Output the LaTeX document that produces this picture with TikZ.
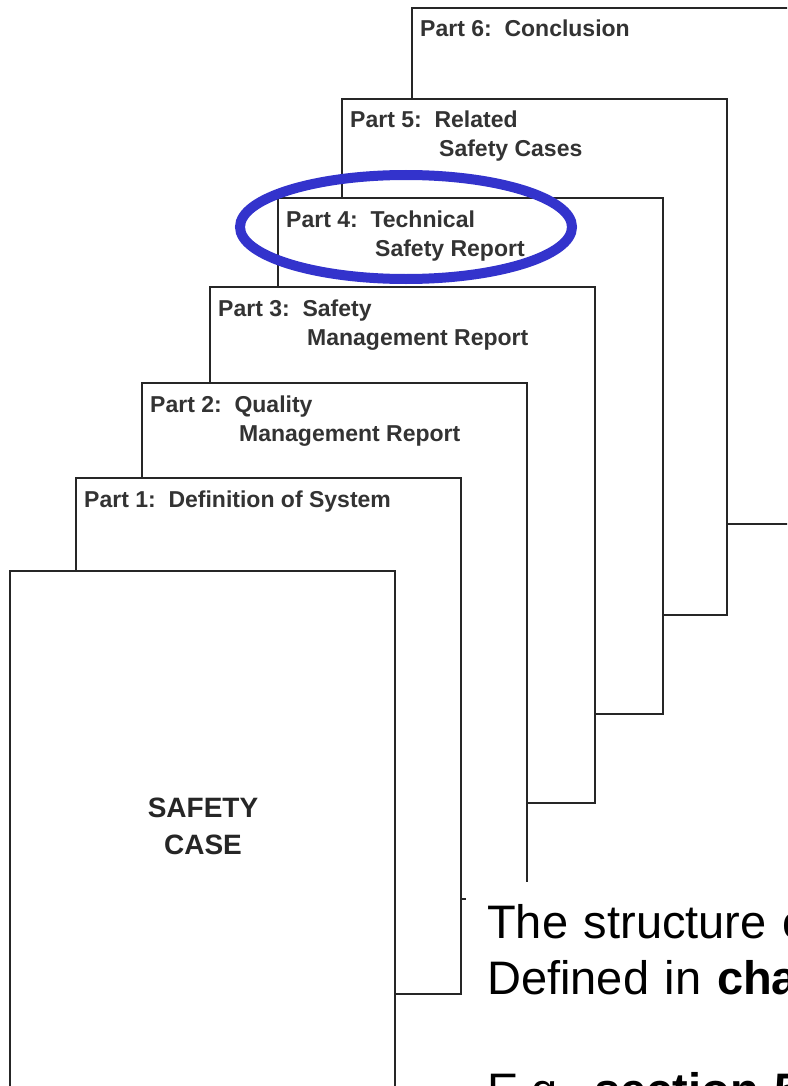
\documentclass[tikz,border=0pt]{standalone}
\usepackage{fontspec}
\setmainfont{Liberation Sans}
\usepackage{tikz}

\definecolor{ovalblue}{RGB}{51,51,204}

\begin{document}
\begin{tikzpicture}[
  x=1pt, y=-1pt,
  page/.style={draw=black!85, line width=2pt, fill=white, inner sep=0pt,
               outer sep=0pt, minimum width=385pt, minimum height=516pt,
               anchor=north west},
  plabel/.style={anchor=base west, inner sep=0pt, text=black!80,
                 font=\bfseries\fontsize{23}{29}\selectfont},
  hilite/.style={draw=ovalblue, line width=10pt},
  note/.style={anchor=north west, fill=white, align=left, text width=420pt,
               inner xsep=21pt, inner ysep=22pt,
               font=\fontsize{47}{56}\selectfont}
]
\useasboundingbox (0,0) rectangle (787,1086);
\clip (0,0) rectangle (787,1086);

% stack of parts, back to front
\node[page] (p6) at (412,8) {};
\node[plabel] (l6) at ([shift={(8pt,-29pt)}]p6.north west) {Part 6:\ \ Conclusion};

\node[page] (p5) at (342,99) {};
\node[plabel] (l5a) at ([shift={(8pt,-29pt)}]p5.north west) {Part 5:\ \ Related};
\node[plabel] (l5b) at ([shift={(89pt,-29pt)}]l5a.base west) {Safety Cases};

\node[page] (p4) at (278,198) {};
\node[plabel] (l4a) at ([shift={(8pt,-29pt)}]p4.north west) {Part 4:\ \ Technical};
\node[plabel] (l4b) at ([shift={(89pt,-29pt)}]l4a.base west) {Safety Report};

\node[page] (p3) at (210,287) {};
\node[plabel] (l3a) at ([shift={(8pt,-29pt)}]p3.north west) {Part 3:\ \ Safety};
\node[plabel] (l3b) at ([shift={(89pt,-29pt)}]l3a.base west) {Management Report};

\node[page] (p2) at (142,383) {};
\node[plabel] (l2a) at ([shift={(8pt,-29pt)}]p2.north west) {Part 2:\ \ Quality};
\node[plabel] (l2b) at ([shift={(89pt,-29pt)}]l2a.base west) {Management Report};

\node[page] (p1) at (76,478) {};
\node[plabel] (l1) at ([shift={(8pt,-29pt)}]p1.north west) {Part 1:\ \ Definition of System};

\node[page] (front) at (10,571) {};
\node[inner sep=0pt, align=center, text=black!85,
      font=\bfseries\fontsize{28}{37}\selectfont] (title) at (203,826) {SAFETY\\CASE};

% highlight on part 4
\draw[hilite] (406,227) ellipse [x radius=166pt, y radius=52pt];

% remark, cut off at the right edge
\node[note] (remark) at (466,882) {The structure o\\Defined in \textbf{cha}\\[56pt]E.g. \textbf{section 5}};
\end{tikzpicture}
\end{document}
